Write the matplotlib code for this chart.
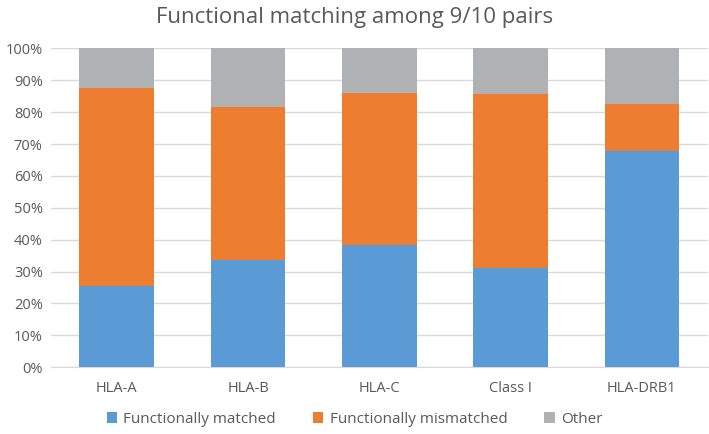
import matplotlib
matplotlib.use("Agg")
import matplotlib.pyplot as plt
import numpy as np
from matplotlib.ticker import PercentFormatter

categories = ["HLA-A", "HLA-B", "HLA-C", "Class I", "HLA-DRB1"]
matched = [25.5, 33.5, 38.3, 31.2, 67.8]
mismatched = [62.0, 48.2, 47.6, 54.5, 14.7]
other = [12.5, 18.3, 14.1, 14.3, 17.5]
series_names = ["Functionally matched", "Functionally mismatched", "Other"]
colors = ["#5B9BD5", "#ED7D31", "#B0B1B2"]

plt.rcParams['font.family'] = ['Open Sans', 'DejaVu Sans']
fig = plt.figure(figsize=(7.09, 4.34), dpi=100)
ax = fig.add_axes([0.072, 0.1537, 0.926, 0.735])

x = np.arange(len(categories))
w = 0.57
bottom = np.zeros(len(categories))
for vals, name, c in zip([matched, mismatched, other], series_names, colors):
    ax.bar(x, vals, w, bottom=bottom, color=c, label=name, zorder=3)
    bottom += np.array(vals)

ax.set_xlim(-0.5, len(categories) - 0.5)
ax.set_ylim(0, 100)
ax.set_yticks(np.arange(0, 101, 10))
ax.yaxis.set_major_formatter(PercentFormatter(decimals=0))
ax.set_xticks(x)
ax.set_xticklabels(categories)
ax.grid(axis='y', color='#D9D9D9', linewidth=1, zorder=0)
for s in ['top', 'right', 'left']:
    ax.spines[s].set_visible(False)
ax.spines['bottom'].set_color('#D9D9D9')
ax.tick_params(axis='both', length=0, colors='#595959', labelsize=10.5)
ax.tick_params(axis='x', pad=10)
ax.tick_params(axis='y', pad=6)

fig.suptitle("Functional matching among 9/10 pairs", y=0.985, fontsize=16, color='#595959')
fig.legend(loc='center', bbox_to_anchor=(0.5, 0.033), ncol=3, frameon=False,
           fontsize=11, handlelength=0.7, handleheight=0.7, handletextpad=0.4,
           columnspacing=2.4, labelcolor='#595959')

fig.savefig("out.png", dpi=100)
